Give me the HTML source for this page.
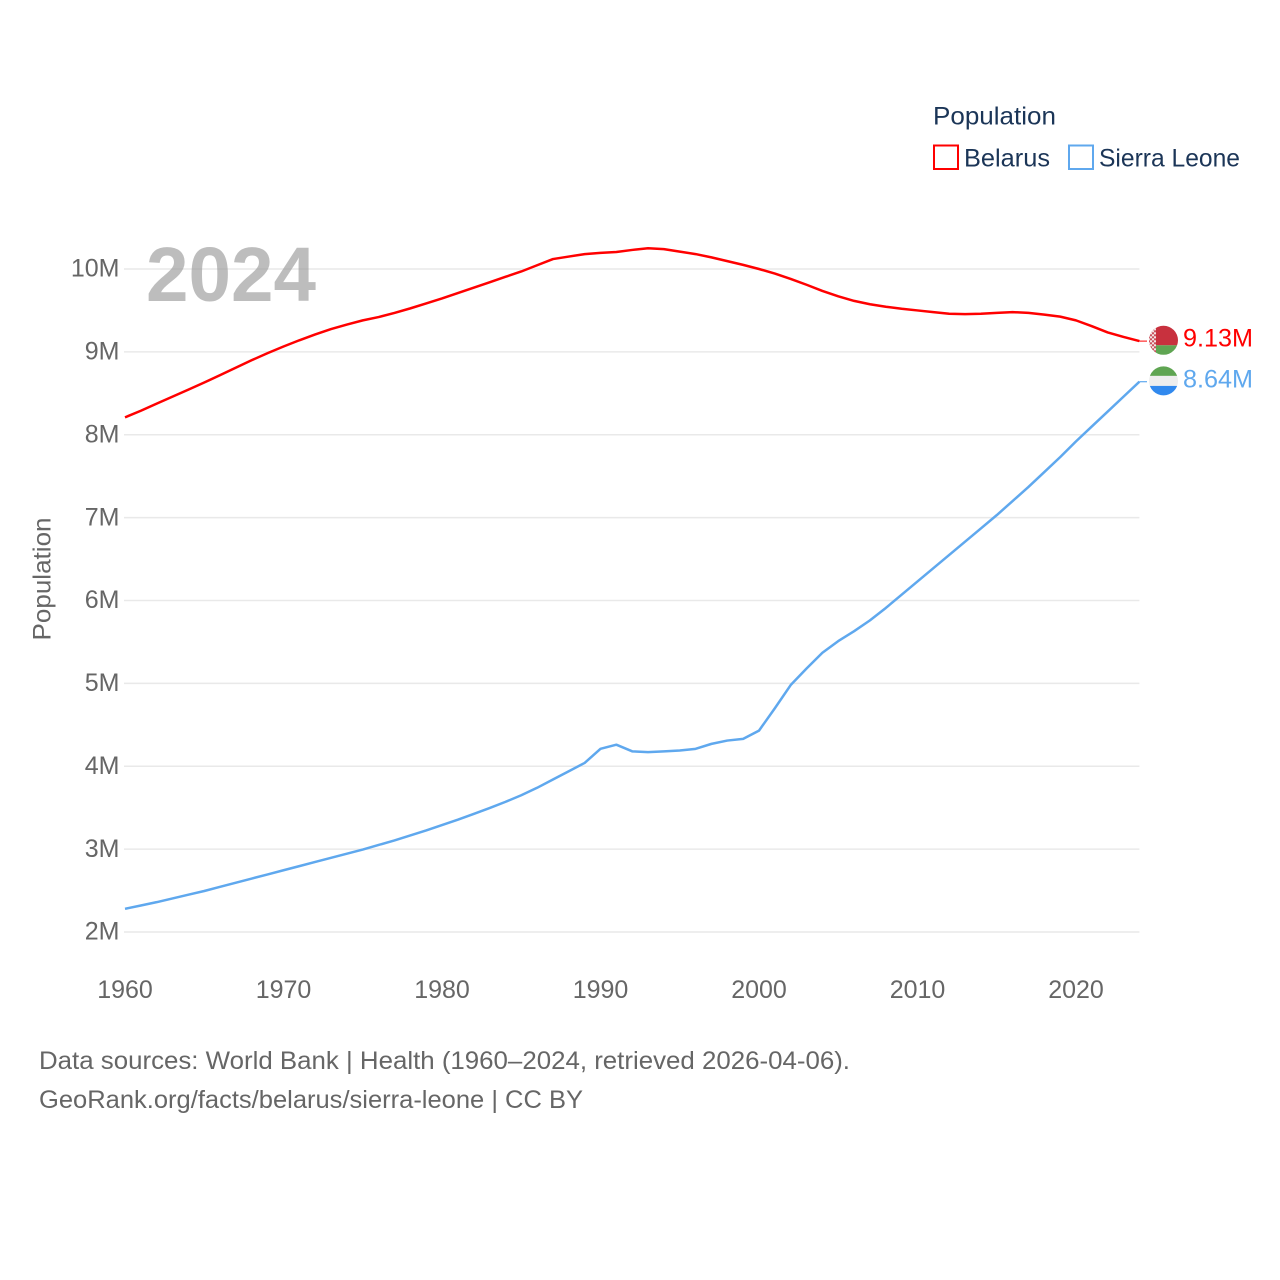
<!DOCTYPE html>
<html lang="en">
<head>
<meta charset="utf-8">
<title>Population: Belarus and Sierra Leone</title>
<style>
html,body{margin:0;padding:0;background:#fff;}
svg{display:block;font-family:"Liberation Sans",sans-serif;}
</style>
</head>
<body>
<svg id="chart" xmlns="http://www.w3.org/2000/svg" width="1280" height="1280" viewBox="0 0 1280 1280">
  <rect x="0" y="0" width="1280" height="1280" fill="#fff"/>
  <defs>
    <clipPath id="flag-clip"><circle cx="1163.5" cy="0" r="14.5"/></clipPath>
    <pattern id="hoist-pattern" width="4" height="4" patternUnits="userSpaceOnUse">
      <rect width="4" height="4" fill="#f3e6e6"/>
      <rect width="2" height="2" fill="#c9505c"/>
      <rect x="2" y="2" width="2" height="2" fill="#c9505c"/>
    </pattern>
  </defs>

  <g id="grid"></g>
  <g id="y-ticks"></g>
  <g id="x-ticks"></g>

  <text transform="translate(50.5,579) rotate(-90)" text-anchor="middle" font-size="25" fill="#666" textLength="123" lengthAdjust="spacingAndGlyphs">Population</text>
  <text x="146" y="301" font-size="77" font-weight="700" fill="#9a9a9a" fill-opacity="0.65" textLength="170" lengthAdjust="spacingAndGlyphs">2024</text>

  <path id="line-belarus" fill="none" stroke="#ff0000" stroke-width="2.5" stroke-linejoin="round"/>
  <path id="line-sierra" fill="none" stroke="#5fa8ee" stroke-width="2.5" stroke-linejoin="round"/>
  <path id="connector-belarus" fill="none" stroke="#ff0000" stroke-width="1"/>
  <path id="connector-sierra" fill="none" stroke="#5fa8ee" stroke-width="1.2"/>

  <g id="flag-belarus">
    <g clip-path="url(#flag-clip)">
      <rect x="1149" y="-15" width="30" height="20" fill="#c8313e"/>
      <rect x="1149" y="5" width="30" height="10" fill="#5fa552"/>
      <rect x="1149" y="-15" width="7" height="30" fill="url(#hoist-pattern)"/>
    </g>
  </g>
  <g id="flag-sierra">
    <g clip-path="url(#flag-clip)">
      <rect x="1149" y="-15" width="30" height="10" fill="#5fa552"/>
      <rect x="1149" y="-5" width="30" height="10" fill="#eeeeee"/>
      <rect x="1149" y="5" width="30" height="10" fill="#3189ee"/>
    </g>
  </g>
  <text id="value-belarus" x="1183" font-size="25" fill="#ff0000" textLength="70" lengthAdjust="spacingAndGlyphs"></text>
  <text id="value-sierra" x="1183" font-size="25" fill="#5fa8ee" textLength="70" lengthAdjust="spacingAndGlyphs"></text>

  <g>
    <text x="933" y="124.5" font-size="25" fill="#1b3557" textLength="123" lengthAdjust="spacingAndGlyphs">Population</text>
    <g>
      <rect x="934" y="145.5" width="24" height="23.5" fill="#fff" stroke="#ff0000" stroke-width="2"/>
      <text x="964" y="166.5" font-size="25" fill="#1b3557" textLength="86" lengthAdjust="spacingAndGlyphs">Belarus</text>
    </g>
    <g>
      <rect x="1069" y="145.5" width="24" height="23.5" fill="#fff" stroke="#5fa8ee" stroke-width="2"/>
      <text x="1099" y="166.5" font-size="25" fill="#1b3557" textLength="141" lengthAdjust="spacingAndGlyphs">Sierra Leone</text>
    </g>
  </g>

  <text x="39" y="1069" font-size="25" fill="#666" textLength="811" lengthAdjust="spacingAndGlyphs">Data sources: World Bank | Health (1960–2024, retrieved 2026-04-06).</text>
  <text x="39" y="1108" font-size="25" fill="#666" textLength="544" lengthAdjust="spacingAndGlyphs">GeoRank.org/facts/belarus/sierra-leone | CC BY</text>
</svg>

<script>
const startYear = 1960;
const xTickYears = [1960, 1970, 1980, 1990, 2000, 2010, 2020];
const yTickValues = [2, 3, 4, 5, 6, 7, 8, 9, 10];
const yTickLabels = ["2M", "3M", "4M", "5M", "6M", "7M", "8M", "9M", "10M"];
const belarusValues = [
  8.21, 8.29, 8.375, 8.46, 8.545, 8.63, 8.72, 8.81, 8.90, 8.985,
  9.065, 9.14, 9.21, 9.275, 9.33, 9.38, 9.42, 9.47, 9.525, 9.585,
  9.645, 9.71, 9.775, 9.84, 9.905, 9.97, 10.045, 10.12, 10.15, 10.18,
  10.195, 10.205, 10.23, 10.25, 10.24, 10.21, 10.18, 10.14, 10.095, 10.05,
  10.0, 9.945, 9.88, 9.81, 9.735, 9.67, 9.615, 9.575, 9.545, 9.52,
  9.50, 9.48, 9.46, 9.455, 9.46, 9.47, 9.48, 9.47, 9.45, 9.425,
  9.38, 9.31, 9.235, 9.18, 9.13
];
const sierraLeoneValues = [
  2.28, 2.32, 2.36, 2.405, 2.45, 2.495, 2.545, 2.595, 2.645, 2.695,
  2.745, 2.795, 2.845, 2.895, 2.945, 2.995, 3.05, 3.105, 3.165, 3.225,
  3.29, 3.355, 3.425, 3.495, 3.57, 3.65, 3.74, 3.84, 3.94, 4.04,
  4.21, 4.26, 4.18, 4.17, 4.18, 4.19, 4.21, 4.27, 4.31, 4.33,
  4.43, 4.70, 4.98, 5.18, 5.37, 5.51, 5.63, 5.76, 5.91, 6.07,
  6.23, 6.39, 6.55, 6.71, 6.87, 7.03, 7.20, 7.37, 7.55, 7.73,
  7.92, 8.10, 8.28, 8.46, 8.64
];
const belarusEndLabel = "9.13M";
const sierraLeoneEndLabel = "8.64M";

const NS = "http://www.w3.org/2000/svg";
function xScale(year) { return 125 + (year - 1960) * 15.85; }
function yScale(value) { return 932 - (value - 2) * 82.875; }
function linePath(values) {
  return values.map(function (v, i) {
    return (i ? "L" : "M") + xScale(startYear + i).toFixed(2) + " " + yScale(v).toFixed(2);
  }).join("");
}

const grid = document.getElementById("grid");
const yTicks = document.getElementById("y-ticks");
const xTicks = document.getElementById("x-ticks");

yTickValues.forEach(function (v, i) {
  const line = document.createElementNS(NS, "line");
  
  
  line.setAttribute("x1", 124);
  line.setAttribute("x2", xScale(2024));
  line.setAttribute("y1", yScale(v));
  line.setAttribute("y2", yScale(v));
  line.setAttribute("stroke", "#e9e9e9");
  line.setAttribute("stroke-width", "1.5");
  grid.appendChild(line);

  const label = document.createElementNS(NS, "text");
  
  
  label.setAttribute("x", 119.5);
  label.setAttribute("y", yScale(v) + 7.7);
  label.setAttribute("text-anchor", "end");
  label.setAttribute("font-size", "25");
  label.setAttribute("fill", "#666");
  label.textContent = yTickLabels[i];
  yTicks.appendChild(label);
});

xTickYears.forEach(function (year) {
  const label = document.createElementNS(NS, "text");
  
  
  label.setAttribute("x", xScale(year));
  label.setAttribute("y", 998);
  label.setAttribute("text-anchor", "middle");
  label.setAttribute("font-size", "25");
  label.setAttribute("fill", "#666");
  label.textContent = year;
  xTicks.appendChild(label);
});

document.getElementById("line-belarus").setAttribute("d", linePath(belarusValues));
document.getElementById("line-sierra").setAttribute("d", linePath(sierraLeoneValues));

function placeEnd(values, connectorId, flagId, valueId, text) {
  const last = values[values.length - 1];
  const y = yScale(last);
  const endX = xScale(startYear + values.length - 1);
  document.getElementById(connectorId).setAttribute("d", "M" + endX + " " + y + "L1147 " + y);
  document.getElementById(flagId).setAttribute("transform", "translate(0," + (y - 0.8) + ")");
  const valueText = document.getElementById(valueId);
  valueText.setAttribute("y", y + 5.6);
  valueText.textContent = text;
}
placeEnd(belarusValues, "connector-belarus", "flag-belarus", "value-belarus", belarusEndLabel);
placeEnd(sierraLeoneValues, "connector-sierra", "flag-sierra", "value-sierra", sierraLeoneEndLabel);
</script>
</body>
</html>
